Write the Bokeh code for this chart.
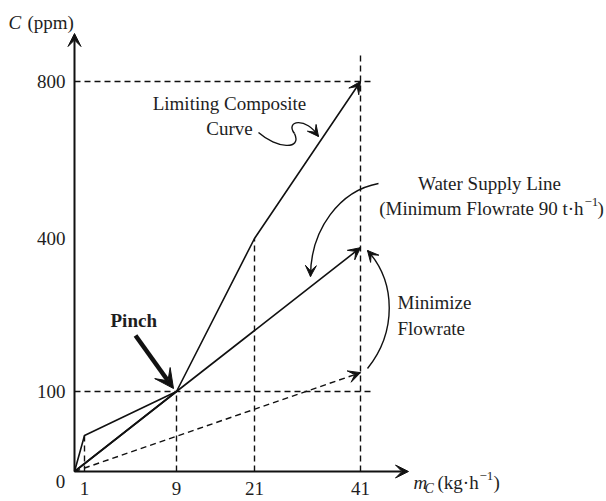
import numpy as np
from bokeh.plotting import figure
from bokeh.models import Range1d, Arrow, VeeHead
from bokeh.core.properties import value
from bokeh.embed import file_html
from bokeh.resources import INLINE

# ---------------- data ----------------
mass_ticks = [1, 9, 21, 41]            # kg/h
conc_ticks = [100, 400, 800]           # ppm
lcc_mass = [0, 1, 9, 21, 41]           # limiting composite curve
lcc_conc = [0, 45, 100, 400, 800]
supply_mass = [0, 9, 41]               # water supply line (90 t/h)
supply_conc = [0, 100, 382]
min_mass = [0, 41]                     # non-minimum (dashed) supply line
min_conc = [0, 137]
pinch_mass = [9]
pinch_conc = [100]

# ------------- schematic (piecewise) scale -------------
X_KNOTS = [0, 1, 9, 21, 41]
X_POS = [0, 10, 102, 180, 286]
Y_KNOTS = [0, 100, 400, 800]
Y_POS = [0, 80, 233, 390]


def sx(v):
    return np.interp(v, X_KNOTS, X_POS)


def sy(v):
    return np.interp(v, Y_KNOTS, Y_POS)


def P(x, y):
    """picture-pixel position of an annotation -> plot units"""
    return x - 74, 471 - y


INK = "#111111"
TXT = "#1e1e1e"
FONT = value("Liberation Serif")

W, H = 606, 501
p = figure(width=W, height=H, output_backend="svg", toolbar_location=None,
           x_range=Range1d(-74, W - 74), y_range=Range1d(471 - H, 471),
           x_axis_location=None, y_axis_location=None, min_border=0)
p.outline_line_color = None
p.xgrid.visible = False
p.ygrid.visible = False
p.background_fill_color = "white"
p.border_fill_color = "white"

DASH = "6 4"
# dashed reference lines
ext_x = sx(41) + 12
top_y = sy(800) + 26
for c in [100, 800]:
    p.line([0, ext_x], [sy(c), sy(c)], line_color=INK, line_width=1.4, line_dash=DASH)
p.line([sx(1), sx(1)], [0, sy(lcc_conc[1])], line_color=INK, line_width=1.4, line_dash=DASH)
p.line([sx(9), sx(9)], [0, sy(100)], line_color=INK, line_width=1.4, line_dash=DASH)
p.line([sx(21), sx(21)], [0, sy(400)], line_color=INK, line_width=1.4, line_dash=DASH)
p.line([sx(41), sx(41)], [0, top_y], line_color=INK, line_width=1.4, line_dash=DASH)

# axes with arrows
ax0, ay0 = P(74, 33)
bx0, by0 = P(408, 471)
p.add_layout(Arrow(x_start=0, y_start=0, x_end=ax0, y_end=ay0, line_color=INK, line_width=2,
                   end=VeeHead(size=13, fill_color=INK, line_color=INK, line_width=1)))
p.add_layout(Arrow(x_start=0, y_start=0, x_end=bx0, y_end=by0, line_color=INK, line_width=2,
                   end=VeeHead(size=13, fill_color=INK, line_color=INK, line_width=1)))

# curves
LX = sx(lcc_mass); LY = sy(lcc_conc)
p.line(LX, LY, line_color=INK, line_width=1.6)
p.add_layout(Arrow(x_start=LX[-2], y_start=LY[-2], x_end=LX[-1], y_end=LY[-1], line_color=None,
                   end=VeeHead(size=12, fill_color=INK, line_color=INK, line_width=1)))
SX = sx(supply_mass); SY = sy(supply_conc)
p.line(SX, SY, line_color=INK, line_width=1.6)
p.add_layout(Arrow(x_start=SX[-2], y_start=SY[-2], x_end=SX[-1], y_end=SY[-1], line_color=None,
                   end=VeeHead(size=12, fill_color=INK, line_color=INK, line_width=1)))
MX = sx(min_mass); MY = sy(min_conc)
p.line(MX, MY, line_color=INK, line_width=1.4, line_dash=DASH)
p.add_layout(Arrow(x_start=MX[-2], y_start=MY[-2], x_end=MX[-1], y_end=MY[-1], line_color=None,
                   end=VeeHead(size=12, fill_color=INK, line_color=INK, line_width=1)))
# straight line from origin to the pinch
p.line([0, sx(pinch_mass[0])], [0, sy(pinch_conc[0])], line_color=INK, line_width=1.6)

# Pinch arrow
px0, py0 = P(135, 335)
p.add_layout(Arrow(x_start=px0, y_start=py0, x_end=sx(pinch_mass[0]) - 3, y_end=sy(pinch_conc[0]) + 3,
                   line_color=INK, line_width=4.5,
                   end=VeeHead(size=19, fill_color=INK, line_color=INK, line_width=1)))


def bez(a, c0, c1, b, head_from):
    (x0, y0), (cx0, cy0), (cx1, cy1), (x1, y1) = P(*a), P(*c0), P(*c1), P(*b)
    p.bezier(x0=[x0], y0=[y0], x1=[x1], y1=[y1], cx0=[cx0], cy0=[cy0], cx1=[cx1], cy1=[cy1],
             line_color=INK, line_width=1.4)
    hx, hy = P(*head_from)
    p.add_layout(Arrow(x_start=hx, y_start=hy, x_end=x1, y_end=y1, line_color=None,
                       end=VeeHead(size=11, fill_color=INK, line_color=INK, line_width=1)))


# squiggle for limiting composite curve
a, c0, c1, b = P(258, 132), P(276, 148), P(302, 150), P(294, 133)
p.bezier(x0=[a[0]], y0=[a[1]], x1=[b[0]], y1=[b[1]], cx0=[c0[0]], cy0=[c0[1]], cx1=[c1[0]], cy1=[c1[1]],
         line_color=INK, line_width=1.4)
bez((294, 133), (284, 120), (306, 116), (318, 136), (311, 127))
# water supply arrow
bez((378, 183), (340, 190), (310, 228), (310, 276), (310.5, 262))
# minimize flowrate arrow
bez((367, 368), (396, 332), (396, 282), (367, 250), (374, 258))


# ---------------- texts ----------------
def txt(x, y, s, size="19px", align="left", baseline="middle", style="normal"):
    X, Y = P(x, y)
    p.text(x=[X], y=[Y], text=[s], text_font=FONT, text_font_size=size, text_align=align,
           text_baseline=baseline, text_color=TXT, text_font_style=style)


# axis titles
txt(8, 22, "C", style="italic")
txt(27, 22, "(ppm)")
txt(413, 482, "m", style="italic")
txt(424, 488, "C", size="14px", style="italic")
txt(437, 482, "(kg·h")
txt(479, 475, "−1", size="13px")
txt(493, 482, ")")

# tick labels
for c in conc_ticks:
    p.text(x=[65 - 74], y=[sy(c)], text=[str(c)], text_font=FONT, text_font_size="19px",
           text_align="right", text_baseline="middle", text_color=TXT)
for m in mass_ticks:
    p.text(x=[sx(m)], y=[P(0, 488)[1]], text=[str(m)], text_font=FONT, text_font_size="19px",
           text_align="center", text_baseline="middle", text_color=TXT)
txt(60, 481, "0", align="center")

# annotations
txt(229, 103, "Limiting Composite", align="center")
txt(229, 128, "Curve", align="center")
txt(489, 183, "Water Supply Line", align="center")
txt(583, 208, "(Minimum Flowrate 90 t·h", align="right")
txt(584, 201, "−1", size="13px")
txt(597, 208, ")")
txt(397, 302, "Minimize")
txt(397, 328, "Flowrate")
txt(110, 320, "Pinch", style="bold")

open("out.html", "w").write(file_html(p, INLINE))
